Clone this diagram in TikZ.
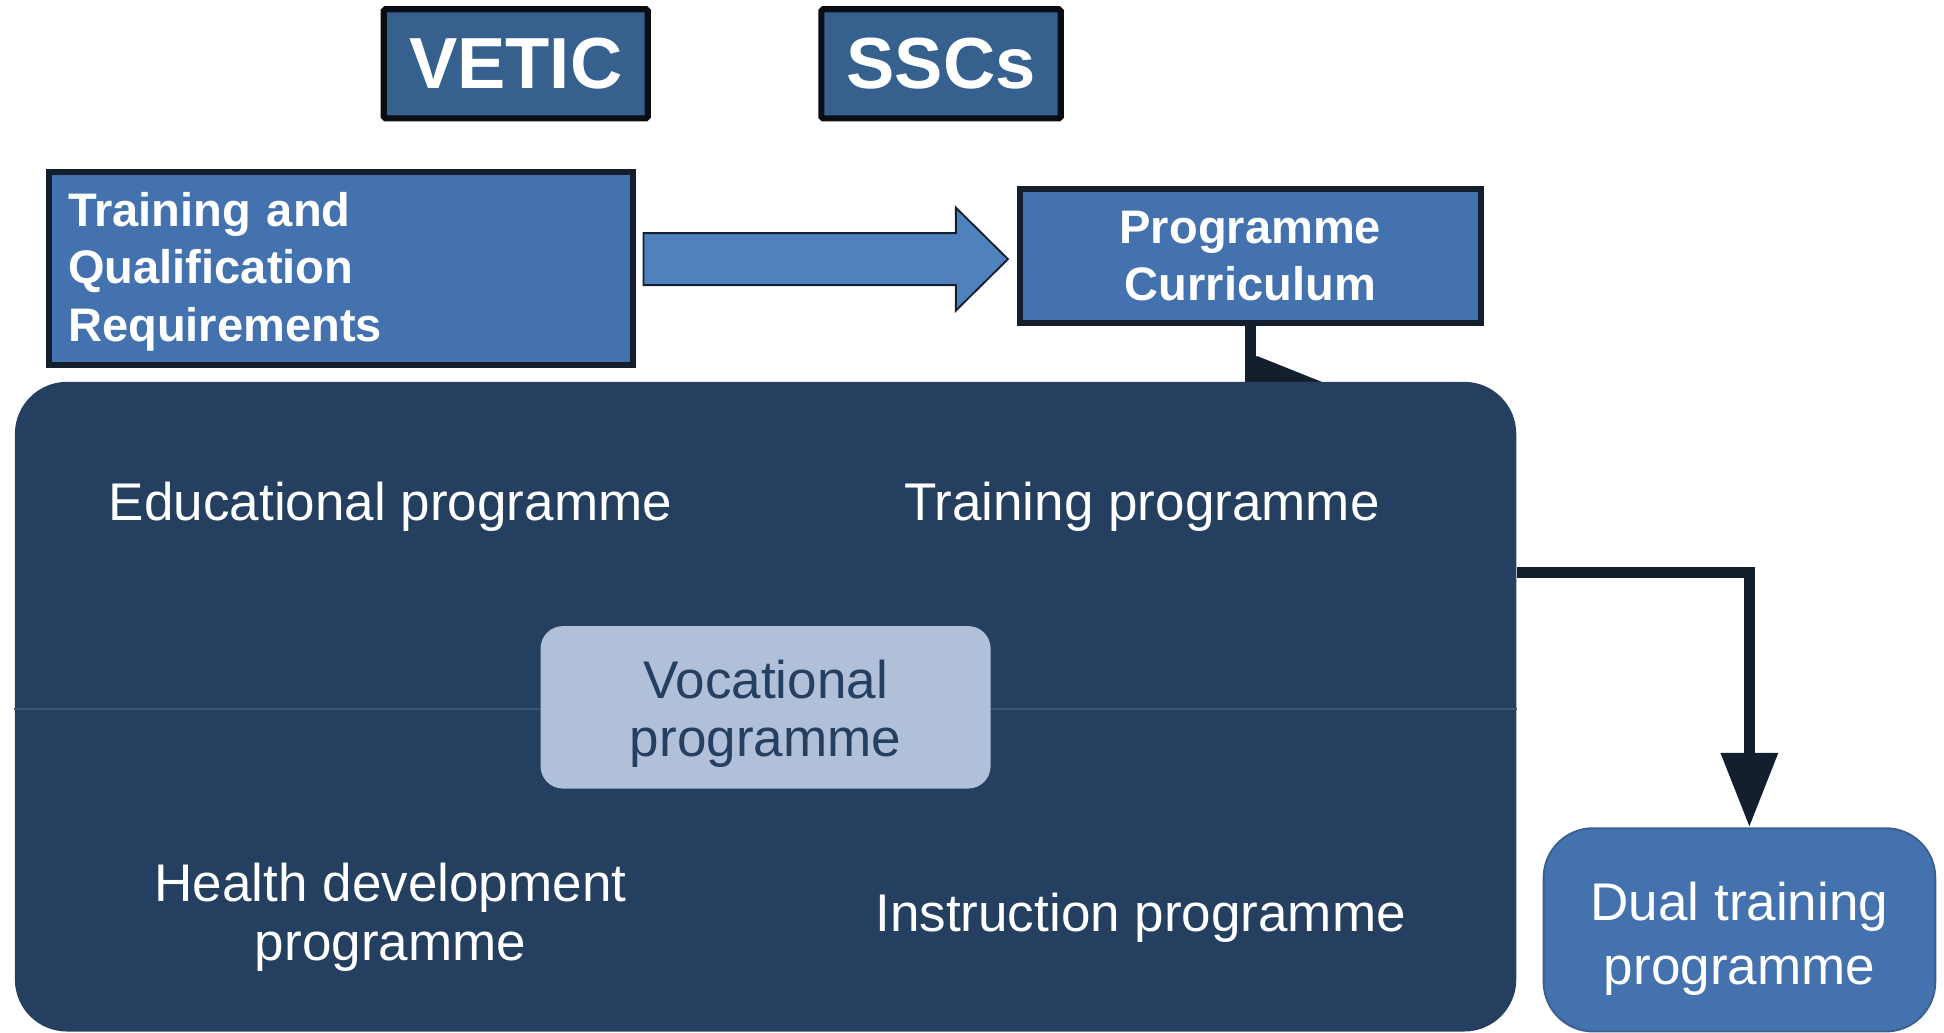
\documentclass[tikz,border=0pt]{standalone}
\usepackage{fontspec}
\setmainfont{Liberation Sans}
\usetikzlibrary{arrows.meta}

\newcommand{\pxu}{0.0124cm}
\newcommand{\lift}[1]{\rule{0pt}{#1}}

\definecolor{agencyfill}{RGB}{54,96,142}
\definecolor{agencyline}{RGB}{10,14,20}
\definecolor{boxfill}{RGB}{67,114,174}
\definecolor{boxline}{RGB}{20,31,45}
\definecolor{arrowfill}{RGB}{79,129,189}
\definecolor{progfill}{RGB}{36,63,95}
\definecolor{progrule}{RGB}{58,84,114}
\definecolor{vocfill}{RGB}{176,192,217}
\definecolor{dualline}{RGB}{58,95,142}

\tikzset{agency/.style={draw=agencyline,fill=agencyfill,line width=5*\pxu,text=white,inner sep=0pt,rounded corners=1.5*\pxu,font=\fontsize{20.6}{24}\selectfont\bfseries},
req box/.style={draw=boxline,fill=boxfill,line width=5*\pxu,text=white,align=left,inner xsep=15.5*\pxu,font=\fontsize{13.4}{16.4}\selectfont\bfseries},
curr box/.style={draw=boxline,fill=boxfill,line width=5*\pxu,text=white,align=center,font=\fontsize{13.4}{16.4}\selectfont\bfseries},
block arrow/.style={draw=boxline,fill=arrowfill,line width=1.5*\pxu,line join=miter},
prog area/.style={fill=progfill,rounded corners=42*\pxu,inner sep=0pt},
prog label/.style={text=white,align=center,font=\fontsize{15.1}{16.9}\selectfont},
voc box/.style={fill=vocfill,rounded corners=18*\pxu,text=progfill,align=center,font=\fontsize{15.1}{16.6}\selectfont},
dual box/.style={draw=dualline,fill=boxfill,line width=1.5*\pxu,rounded corners=40*\pxu,text=white,align=center,font=\fontsize{15.1}{18}\selectfont},
flow/.style={draw=boxline,line width=9*\pxu,line join=miter}}

\begin{document}
\begin{tikzpicture}[x=\pxu,y=-\pxu]
\useasboundingbox (0,0) rectangle (1568,833);

%% Coordinates of nodes.
\coordinate (cVETIC) at (416,51.5);
\coordinate (cSSC) at (759,51.5);
\coordinate (cReq) at (275,216.5);
\coordinate (cCurr) at (1008.5,206.5);
\coordinate (cProg) at (617.5,570);
\coordinate (cVoc) at (617.5,570.5);
\coordinate (cDual) at (1403,750);
\coordinate (arrS) at (519,209);
\coordinate (arrT) at (813,209);
\coordinate (bend) at (1411,462);

%% boxes
\node [agency,minimum width=213*\pxu,minimum height=88*\pxu] (vetic) at (cVETIC) {VETIC};
\node [agency,minimum width=193*\pxu,minimum height=88*\pxu] (sscs) at (cSSC) {SSCs};
\node [req box,minimum width=471*\pxu,minimum height=156*\pxu,text width=440*\pxu] (req) at (cReq) {\lift{11.6pt}Training and\\Qualification\\Requirements};
\node [curr box,minimum width=372*\pxu,minimum height=108*\pxu] (curr) at (cCurr) {Programme\\Curriculum};

%% block arrow
\draw [block arrow] (arrS) ++(0,-21) -- ++(252,0) -- ++(0,-20.5) -- (arrT) -- ++(-42,41.5) -- ++(0,-20.5) -- ++(-252,0) -- cycle;

%% curriculum down to the programmes
\draw [flow] (curr.south) -- (curr.south |- 0,308);
\fill [boxline] (curr.south |- 0,308) ++(5,-21) -- ++(52.5,21) -- ++(-57.5,0) -- cycle;

%% programme area
\node [prog area,minimum width=1211*\pxu,minimum height=524*\pxu] (prog) at (cProg) {};
\draw [progrule,line width=1.2*\pxu] (prog.west |- 0,572) -- (prog.east |- 0,572);
\node [prog label] (edu) at (315,409) {Educational programme};
\node [prog label] (trn) at (921,409) {Training programme};
\node [prog label] (hlt) at (315,740) {Health development\\programme};
\node [prog label] (ins) at (920,740) {Instruction programme};
\node [voc box,minimum width=363*\pxu,minimum height=131*\pxu] (voc) at (cVoc) {\lift{14.6pt}Vocational\\programme};

%% dual training
\node [dual box,minimum width=316*\pxu,minimum height=164*\pxu] (dual) at (cDual) {\lift{16pt}Dual training\\programme};
\draw [flow,-{Triangle[length=0.744cm,width=0.546cm]}] (prog.east |- bend) -- (bend) -- (bend |- dual.north);

\end{tikzpicture}
\end{document}
